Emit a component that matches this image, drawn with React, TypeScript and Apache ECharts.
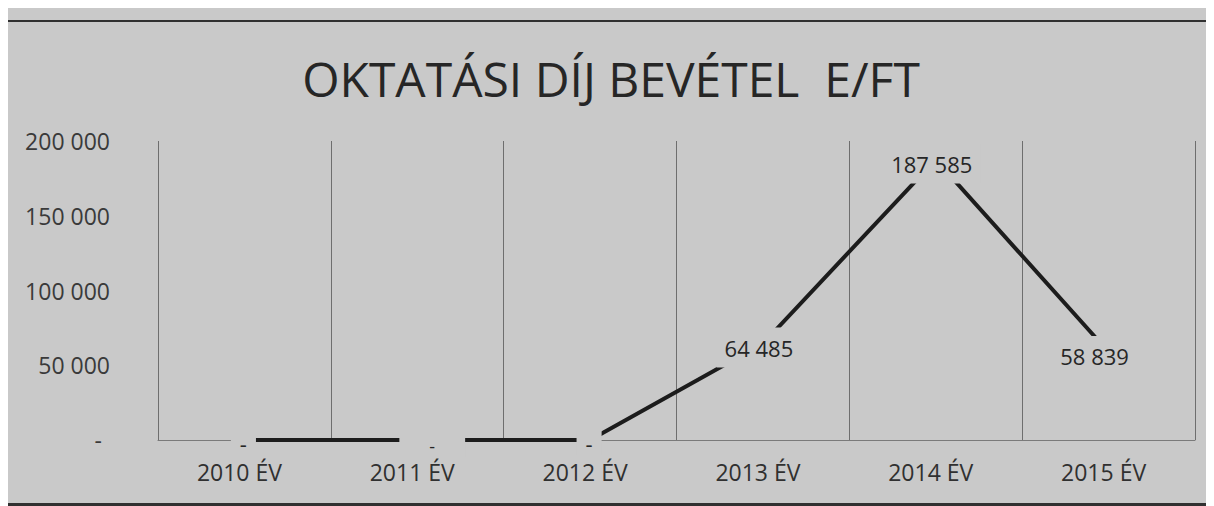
import React, { useEffect, useRef } from "react";
import * as echarts from "echarts";

const titleText = "OKTATÁSI DÍJ BEVÉTEL  E/FT";
const years = ["2010 ÉV", "2011 ÉV", "2012 ÉV", "2013 ÉV", "2014 ÉV", "2015 ÉV"];
const revenue = [0, 0, 0, 64485, 187585, 58839];
const yMin = 0;
const yMax = 200000;
const yStep = 50000;

const BG = "#c9c9c9";
const INK = "#262626";

function fmt(n: number): string {
  if (n === 0) return "-";
  return String(Math.round(n)).replace(/\B(?=(\d{3})+(?!\d))/g, " ");
}

// per-point label placement tweaks (styling only)
const labelTweaks: any[] = [
  { offset: [-1, 3], padding: [4, 9], lineHeight: 16 },
  { offset: [15, 6], padding: [8, 30, 2, 30], lineHeight: 12, fontSize: 18 },
  { offset: [-1, 3], padding: [4, 9], lineHeight: 16 },
  {},
  {},
  { offset: [-14, 4] },
];

export default function App() {
  const ref = useRef<HTMLDivElement>(null);
  useEffect(() => {
    document.documentElement.style.overflow = "hidden";
    const chart = echarts.init(ref.current!, null, { renderer: "svg" });
    const labelBase = {
      show: true,
      position: "inside",
      offset: [-4, 4],
      formatter: (p: any) => fmt(p.value),
      fontFamily: "Open Sans",
      fontSize: 22,
      color: INK,
      backgroundColor: BG,
      padding: [9, 8],
    };
    const data = revenue.map((v, i) =>
      Object.keys(labelTweaks[i]).length
        ? { value: v, label: labelTweaks[i] }
        : { value: v }
    );
    chart.setOption({
      animation: false,
      backgroundColor: BG,
      title: {
        text: titleText,
        left: "center",
        top: 46,
        padding: 0,
        textStyle: {
          fontFamily: "Open Sans",
          fontSize: 48,
          fontWeight: "normal",
          color: INK,
        },
      },
      graphic: [
        {
          type: "rect",
          shape: { x: 0, y: 12, width: 1206, height: 2 },
          style: { fill: "#303030" },
          silent: true,
        },
        {
          type: "rect",
          shape: { x: 0, y: 495, width: 1206, height: 3 },
          style: { fill: "#303030" },
          silent: true,
        },
      ],
      grid: { left: 150, right: 19, top: 133, bottom: 66 },
      xAxis: {
        type: "category",
        data: years,
        boundaryGap: true,
        axisLine: { show: true, lineStyle: { color: "#7a7a7a", width: 1 } },
        axisTick: { show: false },
        axisLabel: {
          margin: 20,
          fontFamily: "Open Sans",
          fontSize: 23,
          color: "#303030",
          padding: [0, 10, 0, 0],
        },
        splitLine: { show: true, lineStyle: { color: "#6e6e6e", width: 1 } },
      },
      yAxis: {
        type: "value",
        min: yMin,
        max: yMax,
        interval: yStep,
        axisLine: { show: false },
        axisTick: { show: false },
        splitLine: { show: false },
        axisLabel: {
          margin: 48,
          fontFamily: "Open Sans",
          fontSize: 23,
          color: "#3a3a3a",
          formatter: (v: number) => (v === 0 ? "{dash|-}" : fmt(v)),
          rich: {
            dash: {
              fontFamily: "Open Sans",
              fontSize: 23,
              color: "#3a3a3a",
              padding: [0, 8, 0, 0],
            },
          },
        },
      },
      series: [
        {
          type: "line",
          data,
          showSymbol: true,
          symbol: "circle",
          symbolSize: 1,
          itemStyle: { color: "#1c1c1c" },
          lineStyle: { color: "#1c1c1c", width: 4 },
          label: labelBase,
          z: 3,
        },
      ],
    });
    return () => chart.dispose();
  }, []);
  return <div ref={ref} style={{ width: 1206, height: 498 }} />;
}
